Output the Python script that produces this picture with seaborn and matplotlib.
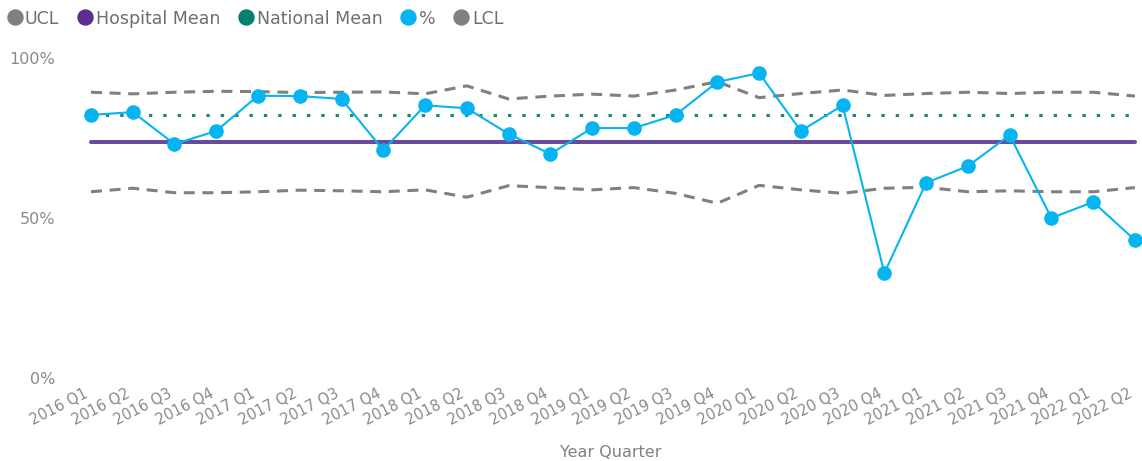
import matplotlib
matplotlib.use("Agg")
import matplotlib.pyplot as plt
import matplotlib.transforms as mtransforms
from matplotlib.lines import Line2D
import seaborn as sns
import pandas as pd

quarters = ["2016 Q1", "2016 Q2", "2016 Q3", "2016 Q4",
            "2017 Q1", "2017 Q2", "2017 Q3", "2017 Q4",
            "2018 Q1", "2018 Q2", "2018 Q3", "2018 Q4",
            "2019 Q1", "2019 Q2", "2019 Q3", "2019 Q4",
            "2020 Q1", "2020 Q2", "2020 Q3", "2020 Q4",
            "2021 Q1", "2021 Q2", "2021 Q3", "2021 Q4",
            "2022 Q1", "2022 Q2"]
pct = [82.2, 83.1, 73.1, 77.2, 88.2, 88.1, 87.2, 71.2,
       85.2, 84.3, 76.3, 70.0, 78.1, 78.1, 82.2, 92.5,
       95.3, 77.2, 85.2, 32.8, 61.0, 66.2, 75.9, 50.0,
       55.0, 43.1]
ucl = [89.3, 88.8, 89.3, 89.6, 89.5, 89.2, 89.3, 89.4,
       88.8, 91.3, 87.2, 88.1, 88.7, 88.1, 90.0, 92.6,
       87.6, 88.9, 90.0, 88.3, 88.9, 89.3, 88.9, 89.3,
       89.3, 88.1]
lcl = [58.2, 59.3, 57.9, 57.9, 58.2, 58.7, 58.5, 58.2,
       58.8, 56.5, 60.1, 59.5, 58.8, 59.5, 57.7, 54.6,
       60.2, 58.8, 57.7, 59.3, 59.6, 58.2, 58.5, 58.2,
       58.2, 59.5]
hospital_mean = 73.8
national_mean = 82.2
yticks = [0, 50, 100]
ytick_labels = ["0%", "50%", "100%"]

df = pd.DataFrame({
    "Year Quarter": quarters,
    "pct": pct,
    "UCL": ucl,
    "LCL": lcl,
    "Hospital Mean": [hospital_mean] * len(quarters),
    "National Mean": [national_mean] * len(quarters),
})

sns.set_style("white")
plt.rcParams["font.family"] = ["DejaVu Sans"]

C_GRAY = "#808080"
C_PURPLE = "#6a4a9c"
C_TEAL = "#1a8a78"
C_BLUE = "#05b4f0"
C_TEXT = "#808080"

fig = plt.figure(figsize=(11.42, 4.61), dpi=100)
ax = fig.add_axes([80 / 1142, 83 / 461, 1 - 80 / 1142, 320 / 461])

sns.lineplot(data=df, x="Year Quarter", y="UCL", ax=ax, color=C_GRAY,
             linewidth=2.2, sort=False, zorder=2)
sns.lineplot(data=df, x="Year Quarter", y="LCL", ax=ax, color=C_GRAY,
             linewidth=2.2, sort=False, zorder=2)
for ln in ax.lines[-2:]:
    ln.set_dashes([3.6, 2.5])
sns.lineplot(data=df, x="Year Quarter", y="Hospital Mean", ax=ax,
             color=C_PURPLE, linewidth=2.9, sort=False, zorder=3)
sns.lineplot(data=df, x="Year Quarter", y="National Mean", ax=ax,
             color=C_TEAL, linewidth=2.2, sort=False, zorder=3)
ax.lines[-1].set_dashes([1.1, 3.6])
sns.lineplot(data=df, x="Year Quarter", y="pct", ax=ax, color=C_BLUE,
             linewidth=1.5, marker="o", markersize=10.5, markeredgewidth=0,
             sort=False, zorder=4)

ax.set_xlim(-0.263, 25.17)
ax.set_ylim(0, 100)
ax.set_yticks(yticks)
ax.set_yticklabels(ytick_labels)
ax.tick_params(axis="y", length=0, pad=18, labelsize=11.5, labelcolor="#8a8a8a")
ax.tick_params(axis="x", length=0, pad=6, labelsize=10.5, labelcolor="#8a8a8a")
shift = mtransforms.ScaledTranslation(-7 / 100, 0, fig.dpi_scale_trans)
for lab in ax.get_xticklabels():
    lab.set_rotation(27)
    lab.set_ha("right")
    lab.set_va("top")
    lab.set_rotation_mode("anchor")
    lab.set_transform(lab.get_transform() + shift)
ax.set_ylabel("")
ax.set_xlabel("Year Quarter", fontsize=11.5, color=C_TEXT, labelpad=12)
for s in ax.spines.values():
    s.set_visible(False)
ax.grid(False)

handles = [
    Line2D([], [], linestyle="none", marker="o", markersize=10.8, color=C_GRAY),
    Line2D([], [], linestyle="none", marker="o", markersize=10.8, color="#5c2d91"),
    Line2D([], [], linestyle="none", marker="o", markersize=10.8, color="#00826e"),
    Line2D([], [], linestyle="none", marker="o", markersize=10.8, color="#05b4f0"),
    Line2D([], [], linestyle="none", marker="o", markersize=10.8, color=C_GRAY),
]
labels = ["UCL", "Hospital Mean", "National Mean", "%", "LCL"]
leg = fig.legend(handles, labels, loc="upper left", bbox_to_anchor=(-0.004, 1.0),
                 ncol=5, frameon=False, fontsize=12.5, handletextpad=0.05,
                 columnspacing=0.95, handlelength=1.1, borderaxespad=0.15)
for t in leg.get_texts():
    t.set_color("#6e6e6e")

fig.savefig("out.png", dpi=100)
